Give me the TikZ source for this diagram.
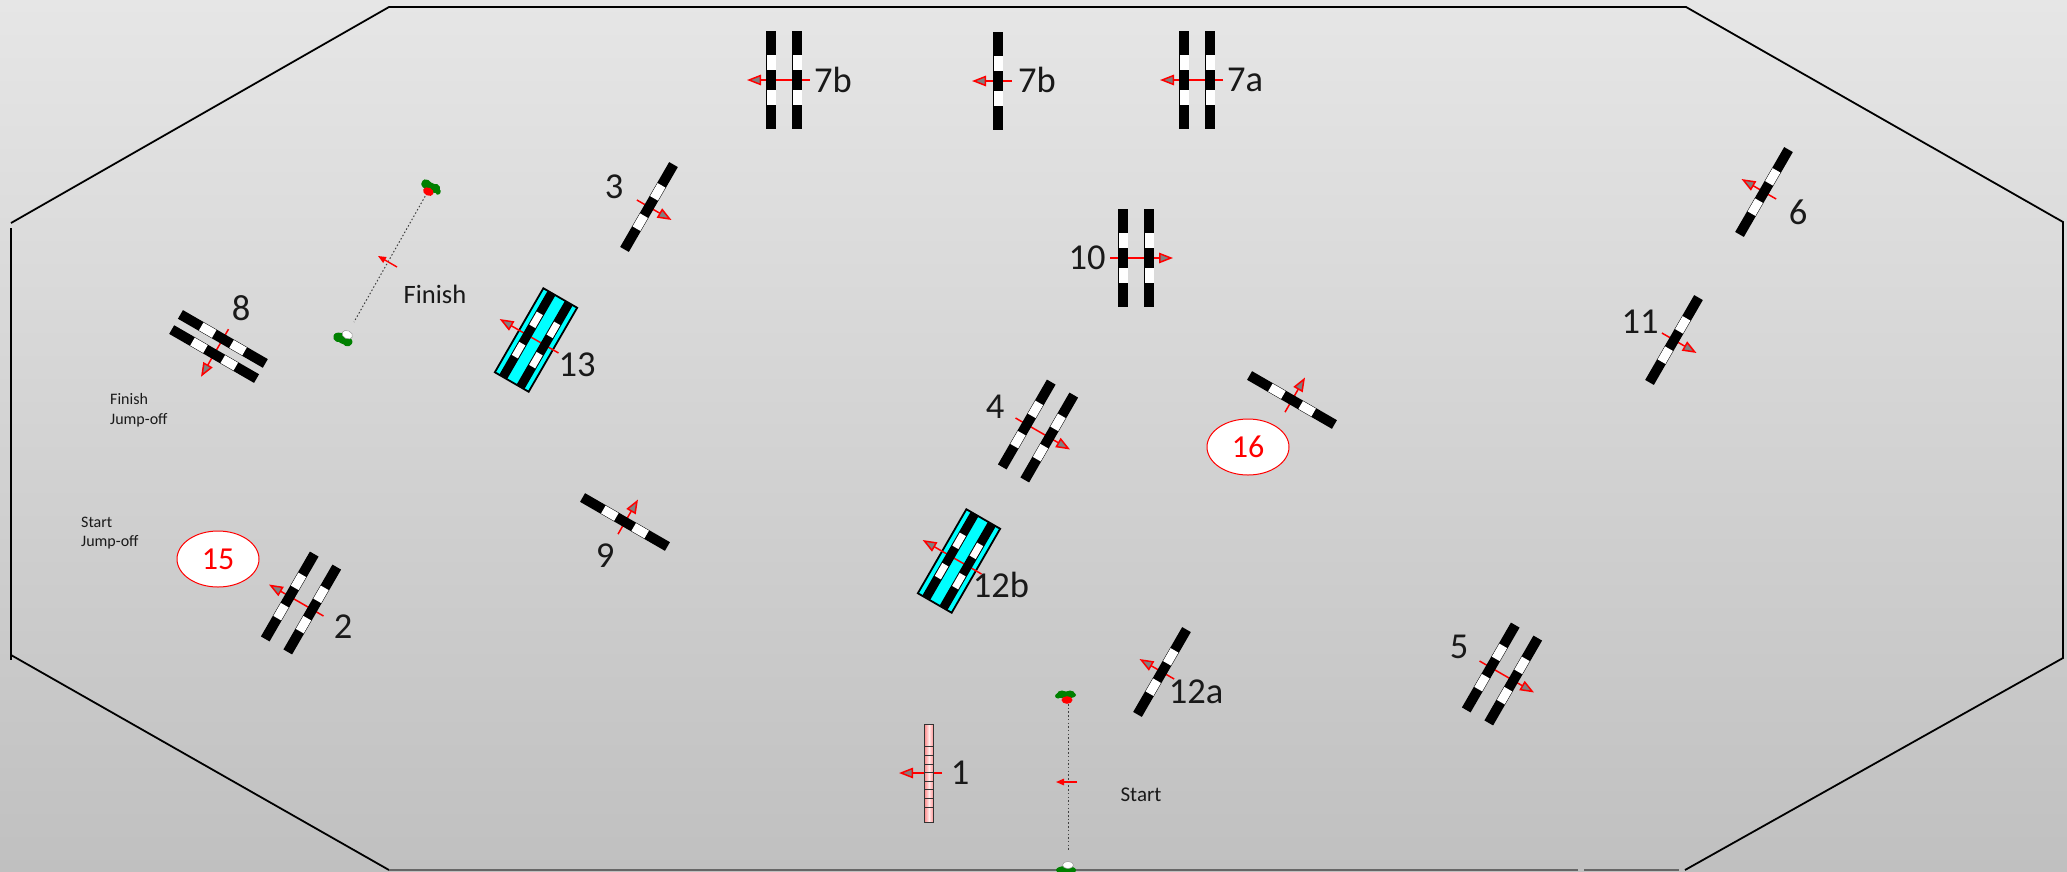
\documentclass[tikz,border=0pt]{standalone}
\usepackage{fontspec}
\setmainfont{Carlito}
\usetikzlibrary{arrows.meta,shapes.geometric}
\definecolor{bgtop}{HTML}{E6E6E6}
\definecolor{bgbot}{HTML}{C0C0C0}
\definecolor{flaggreen}{HTML}{008000}
\definecolor{wateraqua}{HTML}{00FFFF}
\newcommand{\jbar}[1]{%
  \fill[black] ({#1-5},-49) rectangle ({#1+5},49);
  \fill[white] ({#1-4.5},-25) rectangle ({#1+4.5},-10);
  \fill[white] ({#1-4.5},10) rectangle ({#1+4.5},25);
}
\newcommand{\wbar}[1]{%
  \fill[black] ({#1-4.5},-48) rectangle ({#1+4.5},48);
  \fill[white] ({#1-3.5},-25) rectangle ({#1+3.5},-10);
  \fill[white] ({#1-3.5},10) rectangle ({#1+3.5},25);
}
\tikzset{
  x=1pt,y=-1pt,
  jumparrow/.style={draw=red,line width=1.5pt,-{Triangle[length=14pt,width=10.5pt,fill=gray]}},
  smallarrow/.style={draw=red,line width=1.4pt,-{Triangle[length=8pt,width=6.5pt,fill=red]}},
  rule/.style={draw=black,line width=1.8pt},
  groundline/.style={draw=black!60,line width=1.6pt},
  dots/.style={draw=black!75,line width=1pt,dash pattern=on 1.5pt off 2.2pt},
  biglabel/.style={inner sep=0pt,font=\fontsize{36.5}{36.5}\selectfont,text=black!90},
  midlabel/.style={inner sep=0pt,font=\fontsize{26.5}{28}\selectfont,text=black!90},
  startlabel/.style={inner sep=0pt,font=\fontsize{21}{24}\selectfont,text=black!90},
  smalllabel/.style={inner sep=0pt,align=left,anchor=west,font=\fontsize{16}{19.5}\selectfont,text=black!90},
  oval/.style={draw=red,fill=white,line width=1pt,ellipse,minimum width=82pt,minimum height=56pt,inner sep=0pt,text=red,font=\fontsize{32}{32}\selectfont},
  jumpsingle/.pic={
    \coordinate (-tail) at (14,0);
    \coordinate (-tip) at (-26,0);
    \draw[jumparrow] (-tail) -- (-tip);
    \jbar{0}
  },
  jumpdouble/.pic={
    \coordinate (-tail) at (26,0);
    \coordinate (-tip) at (-37,0);
    \draw[jumparrow] (-tail) -- (-tip);
    \jbar{-13}
    \jbar{13}
  },
  jumpnarrow/.pic={
    \coordinate (-tail) at (20,0);
    \coordinate (-tip) at (-35,0);
    \draw[jumparrow] (-tail) -- (-tip);
    \jbar{-8.75}
    \jbar{8.75}
  },
  jumpwater/.pic={
    \draw[fill=wateraqua,draw=black,line width=1.8pt] (-19.5,-48.5) rectangle (19.5,48.5);
    \coordinate (-tail) at (26,0);
    \coordinate (-tip) at (-42,0);
    \draw[jumparrow] (-tail) -- (-tip);
    \wbar{-10}
    \wbar{10}
  },
  jumppink/.pic={
    \coordinate (-tail) at (13,0);
    \coordinate (-tip) at (-30,0);
    \draw[jumparrow] (-tail) -- (-tip);
    \shade[left color=red!45!white,right color=red!45!white,middle color=red!8!white] (-4.5,-49) rectangle (4.5,49);
    \draw[black!80,line width=.8pt] (-4.5,-49) rectangle (4.5,49);
    \foreach \k in {-26.3,-17.7,-9.1,-0.5,8.1,16.7,25.3,33.9}{
      \draw[black!80,line width=.8pt] (-4.5,\k) -- (4.5,\k);
    }
  },
  flagred/.pic={
    \fill[flaggreen] (0,-1) ellipse (10 and 3.5);
    \fill[flaggreen] (-4,-2) ellipse (5 and 3.5);
    \fill[flaggreen] (4,-2) ellipse (5 and 3.5);
    \fill[flaggreen] (-8,0) ellipse (3 and 2.5);
    \fill[red] (1,4) ellipse (5.5 and 3.8);
  },
  flagredbig/.pic={
    \fill[flaggreen] (0,-1) ellipse (10 and 4.5);
    \fill[flaggreen] (-5,-3) ellipse (5 and 3.5);
    \fill[flaggreen] (5,-2) ellipse (5 and 4.5);
    \fill[flaggreen] (9,0) ellipse (2.5 and 3);
    \fill[red] (0,4) ellipse (5.5 and 4);
  },
  flagwhite/.pic={
    \fill[flaggreen] (0,2) ellipse (10 and 4);
    \fill[flaggreen] (-4,3) ellipse (5 and 4);
    \fill[flaggreen] (5,3) ellipse (4.5 and 3.5);
    \draw[fill=white,draw=black!40,line width=.5pt] (2,-3) ellipse (5.5 and 3.6);
  },
  flagwhitebig/.pic={
    \fill[flaggreen] (0,2) ellipse (10 and 5);
    \fill[flaggreen] (-5,3) ellipse (5 and 4.5);
    \fill[flaggreen] (5,3) ellipse (5 and 4.5);
    \draw[fill=white,draw=black!40,line width=.5pt] (2,-3.5) ellipse (5.5 and 4);
  },
}
\begin{document}
\begin{tikzpicture}
\useasboundingbox (0,0) rectangle (2067,871);
\fill[top color=bgtop,bottom color=bgbot] (0,0) rectangle (2067,871);

% ring
\coordinate (ltop) at (11,223);
\coordinate (tl) at (389,7);
\coordinate (tr) at (1686,7);
\coordinate (rtop) at (2063,222);
\coordinate (rbot) at (2063,658);
\coordinate (brr) at (1685,870);
\coordinate (brm) at (1679,870);
\coordinate (brs) at (1584,870);
\coordinate (brq) at (1578,870);
\coordinate (bl) at (389,870);
\coordinate (lbot) at (11,655);
\coordinate (lv1) at (11,228);
\coordinate (lv2) at (11,660);
\draw[rule] (ltop) -- (tl) -- (tr) -- (rtop) -- (rbot) -- (brr);
\draw[rule] (lv1) -- (lv2);
\draw[rule] (lbot) -- (bl);
\draw[groundline] (bl) -- (brq);
\draw[groundline] (brs) -- (brm);

% jumps
\pic[rotate=0] (j7bb) at (784,80) {jumpdouble};
\pic[rotate=0] (j7bs) at (998,81) {jumpsingle};
\pic[rotate=0] (j7a) at (1197,80) {jumpdouble};
\pic[rotate=150] (j3) at (649,207) {jumpsingle};
\pic[rotate=-30] (j6) at (1764,192) {jumpsingle};
\pic[rotate=150] (j11) at (1674,340) {jumpsingle};
\pic[rotate=180] (j10) at (1136,258) {jumpdouble};
\pic[rotate=150] (j4) at (1038,431) {jumpdouble};
\pic[rotate=-120] (j16) at (1292,400) {jumpsingle};
\pic[rotate=-30] (j2) at (301,603) {jumpdouble};
\pic[rotate=60] (j8) at (218.5,346.5) {jumpnarrow};
\pic[rotate=-30] (j13) at (536,340) {jumpwater};
\pic[rotate=-30] (j12b) at (959,561) {jumpwater};
\pic[rotate=-30] (j12a) at (1162,672) {jumpsingle};
\pic[rotate=0] (j1) at (929,773) {jumppink};
\pic[rotate=150] (j5) at (1502,674) {jumpdouble};
\pic[rotate=-120] (j9) at (625,522) {jumpsingle};

% start and finish lines
\coordinate (fin1) at (427,193);
\coordinate (fin2) at (354,322);
\draw[dots] (fin1) -- (fin2);
\coordinate (finT) at (397,267);
\coordinate (finH) at (378,256);
\draw[smallarrow] (finT) -- (finH);
\pic[rotate=-25] (flagF1) at (430,188) {flagredbig};
\pic[rotate=-25] (flagF2) at (344,337) {flagwhitebig};

\coordinate (sta1) at (1068,704);
\coordinate (sta2) at (1068,851);
\draw[dots] (sta1) -- (sta2);
\coordinate (staT) at (1077,782);
\coordinate (staH) at (1056,782);
\draw[smallarrow] (staT) -- (staH);
\pic (flagS1) at (1066,696) {flagred};
\pic (flagS2) at (1066,868) {flagwhite};

% ovals
\node[oval] (o15) at (218,559) {15};
\node[oval] (o16) at (1248,447) {16};

% labels
\node[biglabel] (l7bb) at (833,80) {7b};
\node[biglabel] (l7bs) at (1037,80) {7b};
\node[biglabel] (l7a) at (1245,80) {7a};
\node[biglabel] (l3) at (614,187) {3};
\node[biglabel] (l6) at (1798,212) {6};
\node[biglabel] (l11) at (1640,322) {11};
\node[biglabel] (l10) at (1087,258) {10};
\node[biglabel] (l8) at (241,308) {8};
\node[biglabel] (l13) at (577,365) {13};
\node[biglabel] (l4) at (995,407) {4};
\node[biglabel] (l9) at (605,556) {9};
\node[biglabel] (l12b) at (1001,585) {12b};
\node[biglabel] (l2) at (343,627) {2};
\node[biglabel] (l12a) at (1196,692) {12a};
\node[biglabel] (l5) at (1459,647) {5};
\node[biglabel] (l1) at (960,773) {1};
\node[midlabel] (lfin) at (435,294) {Finish};
\node[startlabel] (lsta) at (1141,795) {Start};
\node[smalllabel] (lfj) at (110,410) {Finish\\Jump-off};
\node[smalllabel] (lsj) at (81,533) {Start\\Jump-off};
\end{tikzpicture}
\end{document}
